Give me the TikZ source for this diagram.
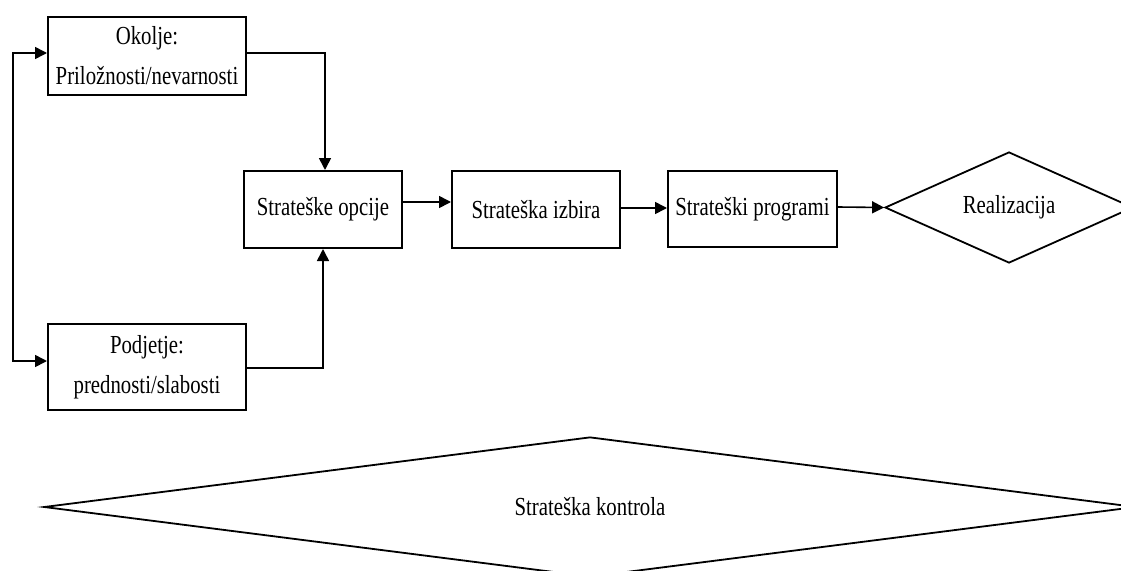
\documentclass[tikz,border=0pt]{standalone}
\usepackage{fontspec}
\setmainfont{Liberation Serif}
\newfontfamily\narrowserif[FakeStretch=0.8]{Liberation Serif}
\usetikzlibrary{shapes.geometric,arrows.meta}
\begin{document}
\begin{tikzpicture}[x=1pt,y=-1pt,
  box/.style={draw, line width=2pt, rectangle, inner sep=0pt, align=center,
    font=\narrowserif\fontsize{26}{40}\selectfont},
  dia/.style={draw, line width=1.8pt, diamond, inner sep=0pt,
    font=\narrowserif\fontsize{26}{30}\selectfont},
  arr/.style={line width=1.6pt, -{Triangle[length=12pt,width=12pt]}},
  biarr/.style={line width=1.6pt, {Triangle[length=12pt,width=12pt]}-{Triangle[length=12pt,width=12pt]}},
]
\useasboundingbox (0,0) rectangle (1121,570);
\clip (0,0) rectangle (1121,570);

% analysis boxes on the left
\node[box, minimum width=198pt, minimum height=78pt] (okolje) at (147,56)
  {Okolje:\\Priložnosti/nevarnosti};
\node[box, minimum width=198pt, minimum height=86pt] (podjetje) at (147,367)
  {Podjetje:\\prednosti/slabosti};

% main chain
\node[box, minimum width=158pt, minimum height=77pt] (opcije) at (323,209.5) {Strateške opcije};
\node[box, minimum width=168pt, minimum height=77pt] (izbira) at (536,209.5) {Strateška izbira};
\node[box, minimum width=169pt, minimum height=76pt] (programi) at (752.5,209) {Strateški programi};
\node[dia, aspect=2.23, minimum width=248pt, minimum height=111pt] (realizacija) at (1009,207.5) {Realizacija};

% control stage
\node[dia, aspect=7.8, minimum width=1092pt, minimum height=140pt] (kontrola) at (590,507) {Strateška kontrola};

% routing levels
\coordinate (ltop) at (13,53);
\coordinate (lbot) at (13,361);
\coordinate (ptop) at (0,368);
\coordinate (r1) at (0,202);
\coordinate (r2) at (0,208);
\coordinate (r3) at (0,207);

% feedback loop feeding both analyses
\draw[biarr] (okolje.west |- ltop) -- (ltop) -- (lbot) -- (podjetje.west |- lbot);

% analyses into strategic options
\draw[arr] (okolje.east |- ltop) -| ([xshift=2pt]opcije.north);
\draw[arr] (podjetje.east |- ptop) -| (opcije.south);

% chain connectors
\draw[arr] (opcije.east |- r1) -- (izbira.west |- r1);
\draw[arr] (izbira.east |- r2) -- (programi.west |- r2);
\draw[arr] (programi.east |- r3) -- (realizacija.west);
\end{tikzpicture}
\end{document}
